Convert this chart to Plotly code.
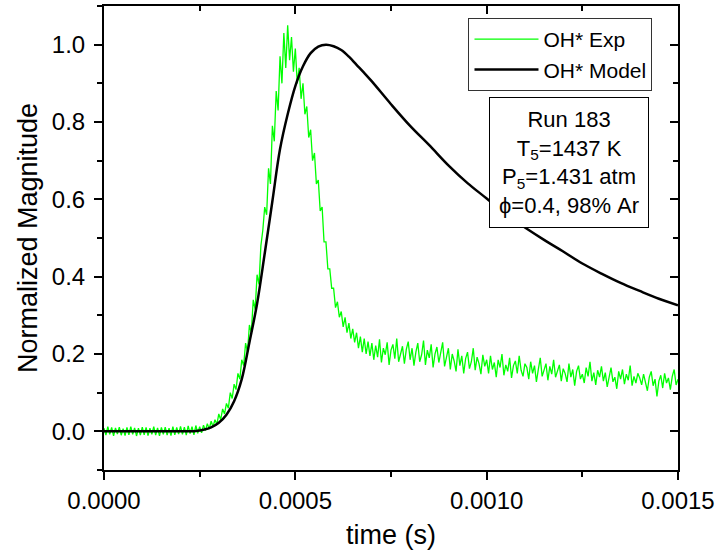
import plotly.graph_objects as go

# ---- data ----
exp_dt = 5e-6  # sampling interval of experimental trace (s)
exp_values = [
    0.008,-0.010,0.012,-0.008,0.010,-0.012,0.009,-0.007,0.011,-0.010,
    0.007,-0.011,0.010,-0.009,0.012,-0.008,0.009,-0.012,0.008,-0.010,
    0.011,-0.009,0.010,-0.011,0.008,-0.008,0.012,-0.010,0.009,-0.012,
    0.010,-0.008,0.011,-0.010,0.008,-0.011,0.012,-0.009,0.010,-0.007,
    0.013,-0.008,0.011,-0.010,0.014,-0.006,0.012,-0.009,0.015,-0.005,
    0.012,-0.004,0.016,0.002,0.020,0.006,0.026,0.012,0.030,0.018,
    0.045,0.030,0.058,0.045,0.072,0.060,0.100,0.085,0.122,0.108,
    0.150,0.135,0.185,0.170,0.228,0.205,0.275,0.255,0.340,0.315,
    0.405,0.380,0.480,0.520,0.580,0.560,0.680,0.640,0.790,0.750,
    0.880,0.830,0.970,0.900,1.030,0.940,1.050,0.960,1.020,0.930,
    0.990,0.900,0.940,0.860,0.900,0.820,0.840,0.760,0.780,0.700,
    0.720,0.640,0.650,0.570,0.580,0.490,0.490,0.420,0.420,0.370,
    0.370,0.320,0.335,0.295,0.310,0.270,0.295,0.255,0.280,0.240,
    0.265,0.230,0.255,0.215,0.245,0.205,0.240,0.200,0.232,0.195,
    0.228,
    0.185,0.222,0.192,0.238,0.178,0.215,0.198,0.230,0.172,0.210,
    0.225,0.188,0.240,0.180,0.205,0.220,0.175,0.212,0.232,0.185,
    0.215,0.170,0.205,0.228,0.180,0.198,0.235,0.172,0.210,0.190,
    0.225,0.165,0.200,0.218,0.178,0.208,0.230,0.168,0.195,0.215,
    0.160,0.200,0.182,0.155,0.212,0.170,0.195,0.150,0.188,0.205,
    0.162,0.180,0.215,0.158,0.192,0.175,0.148,0.198,0.168,0.185,
    0.150,0.195,0.160,0.178,0.140,0.185,0.165,0.200,0.145,0.172,
    0.155,0.190,0.138,0.170,0.182,0.150,0.195,0.158,0.142,0.175,
    0.165,0.135,0.180,0.150,0.170,0.128,0.160,0.190,0.142,0.158,
    0.175,0.132,0.168,0.148,0.185,0.140,0.155,0.172,0.130,0.162,
    0.150,0.128,0.175,0.140,0.160,0.118,0.155,0.170,0.135,0.148,
    0.125,0.165,0.142,0.180,0.130,0.152,0.120,0.158,0.140,0.168,
    0.130,0.152,0.115,0.145,0.165,0.128,0.140,0.110,0.155,0.135,
    0.160,0.122,0.148,0.132,0.170,0.118,0.142,0.125,0.150,0.138,
    0.120,0.148,0.128,0.105,0.140,0.155,0.118,0.135,0.090,0.130,
    0.145,0.112,0.150,0.125,0.138,0.108,0.142,0.160,0.120,0.135,
]
exp_time = [i * exp_dt for i in range(len(exp_values))]

model_time = [
    0.0, 0.0001, 0.0002, 0.00024, 0.00026, 0.00028, 0.00030, 0.00032, 0.00034,
    0.00036, 0.00038, 0.00040, 0.00042, 0.00044, 0.00046, 0.00048, 0.00050,
    0.00052, 0.00054, 0.00056, 0.00058, 0.00060, 0.00062, 0.00064, 0.00066,
    0.00068, 0.00070, 0.00075, 0.00080, 0.00085, 0.00090, 0.00095, 0.00100,
    0.00105, 0.00110, 0.00115, 0.00120, 0.00125, 0.00130, 0.00135, 0.00140,
    0.00145, 0.00150,
]
model_values = [
    0.0, 0.0, 0.0, 0.001, 0.004, 0.010, 0.022, 0.043, 0.078,
    0.135, 0.230, 0.330, 0.460, 0.595, 0.730, 0.820, 0.893,
    0.944, 0.978, 0.995, 1.000, 0.996, 0.986, 0.969, 0.948,
    0.927, 0.905, 0.846, 0.790, 0.740, 0.688, 0.642, 0.602,
    0.561, 0.527, 0.495, 0.465, 0.434, 0.408, 0.384, 0.363,
    0.343, 0.326,
]

x_ticks = [0.0, 0.0005, 0.0010, 0.0015]
y_ticks = [0.0, 0.2, 0.4, 0.6, 0.8, 1.0]

FONT = "Liberation Sans, Arial, sans-serif"

fig = go.Figure()
fig.add_trace(go.Scatter(x=exp_time, y=exp_values, mode="lines", name="OH* Exp",
                         line=dict(color="#00FF00", width=1.3)))
fig.add_trace(go.Scatter(x=model_time, y=model_values, mode="lines", name="OH* Model",
                         line=dict(color="black", width=2.5, shape="spline", smoothing=1.0)))
# invisible trace so the mirrored top/right frame axes are drawn
fig.add_trace(go.Scatter(x=model_time, y=model_values, mode="lines", xaxis="x2", yaxis="y2",
                         showlegend=False, hoverinfo="skip", opacity=0,
                         line=dict(width=0)))

axis_common = dict(showgrid=False, zeroline=False, showline=True, linecolor="black",
                   linewidth=2, tickcolor="black", tickwidth=2)

fig.update_layout(
    width=721, height=556,
    margin=dict(l=104, r=41, t=6, b=86),
    plot_bgcolor="white", paper_bgcolor="white",
    font=dict(family=FONT, color="black"),
    showlegend=True,
    legend=dict(x=0.635, y=0.974, xanchor="left", yanchor="top",
                bordercolor="#333333", borderwidth=1, bgcolor="white",
                font=dict(size=21, family=FONT), tracegroupgap=0,
                itemwidth=64),
    xaxis=dict(range=[0, 0.0015], tickvals=x_ticks, tickformat=".4f",
               ticks="outside", ticklen=8,
               tickfont=dict(size=24, family=FONT),
               title=dict(text="time (s)", font=dict(size=27, family=FONT), standoff=12),
               minor=dict(dtick=0.00025, ticks="outside", ticklen=5, tickwidth=2, tickcolor="black", showgrid=False),
               **axis_common),
    yaxis=dict(range=[-0.1, 1.1], tickvals=y_ticks, tickformat=".1f",
               ticks="outside", ticklen=8, ticklabelstandoff=4,
               tickfont=dict(size=24, family=FONT),
               title=dict(text="Normalized Magnitude", font=dict(size=27, family=FONT), standoff=6),
               minor=dict(dtick=0.1, tick0=0.1, ticks="outside", ticklen=5, tickwidth=2, tickcolor="black", showgrid=False),
               **axis_common),
    xaxis2=dict(range=[0, 0.0015], overlaying="x", side="top", anchor="y2",
                tickvals=x_ticks, showticklabels=False, ticks="inside", ticklen=8,
                minor=dict(dtick=0.00025, ticks="inside", ticklen=5, tickwidth=2, tickcolor="black", showgrid=False),
                **axis_common),
    yaxis2=dict(range=[-0.1, 1.1], overlaying="y", side="right", anchor="x2",
                tickvals=y_ticks, showticklabels=False, ticks="inside", ticklen=8,
                minor=dict(dtick=0.1, tick0=0.1, ticks="inside", ticklen=5, tickwidth=2, tickcolor="black", showgrid=False),
                **axis_common),
)

fig.add_annotation(
    xref="paper", yref="paper", x=0.81, y=0.662, xanchor="center", yanchor="middle",
    text="Run 183<br>T<sub>5</sub>=1437 K<br>P<sub>5</sub>=1.431 atm<br>ϕ=0.4, 98% Ar",
    showarrow=False, align="center", font=dict(size=22, family=FONT, color="black"),
    bordercolor="black", borderwidth=1, borderpad=9, bgcolor="white",
)

fig.write_html("out.html")
